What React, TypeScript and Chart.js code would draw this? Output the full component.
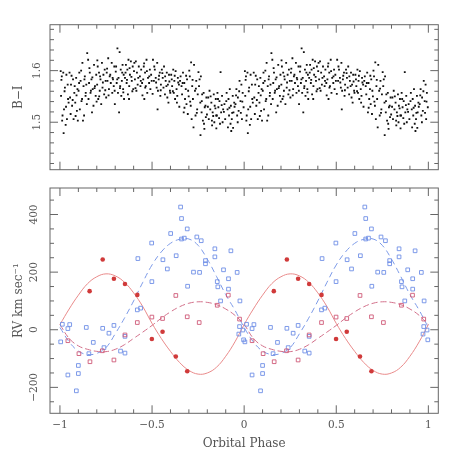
import React, { useEffect, useRef } from "react";
import { Chart, registerables } from "chart.js";
Chart.register(...registerables);

// ---- tick labels ----
const phaseTicks = [-1, -0.5, 0, 0.5, 1];
const biTicks = [1.5, 1.6];
const rvTicks = [-200, 0, 200, 400];

// ---- B-I colour curve, one orbital cycle: [phase, B-I] ----
const biPoints: [number, number][] = [
  [0.004,1.599],[0.018,1.596],[0.035,1.592],[0.010,1.589],[0.042,1.573],[0.027,1.567],[0.006,1.551],[0.047,1.538],[0.022,1.525],[0.014,1.513],[0.038,1.506],[0.031,1.495],[0.020,1.479],
  [0.008,1.582],[0.025,1.560],[0.044,1.545],[0.033,1.530],[0.012,1.503],
  [0.052,1.596],[0.088,1.586],[0.071,1.583],[0.060,1.573],[0.095,1.564],[0.078,1.557],[0.055,1.548],[0.083,1.538],[0.066,1.532],[0.092,1.522],[0.058,1.516],[0.074,1.506],[0.097,1.503],
  [0.063,1.590],[0.080,1.570],[0.090,1.552],[0.069,1.543],[0.085,1.512],
  [0.148,1.634],[0.122,1.615],[0.105,1.596],[0.135,1.589],[0.112,1.580],[0.143,1.573],[0.128,1.570],[0.101,1.561],[0.139,1.551],[0.117,1.541],[0.146,1.535],[0.108,1.525],[0.131,1.513],[0.125,1.503],
  [0.115,1.600],[0.133,1.583],[0.104,1.576],[0.140,1.557],[0.120,1.545],
  [0.153,1.621],[0.185,1.611],[0.162,1.596],[0.197,1.592],[0.171,1.583],[0.158,1.576],[0.190,1.570],[0.178,1.564],[0.166,1.557],[0.194,1.551],[0.155,1.545],[0.182,1.532],[0.174,1.519],
  [0.160,1.605],[0.176,1.587],[0.188,1.566],[0.168,1.561],[0.199,1.540],
  [0.228,1.615],[0.205,1.608],[0.243,1.602],[0.212,1.596],[0.236,1.592],[0.220,1.583],[0.248,1.580],[0.202,1.573],[0.231,1.567],[0.216,1.561],[0.240,1.554],[0.208,1.545],[0.224,1.535],
  [0.203,1.620],[0.218,1.589],[0.233,1.577],[0.246,1.562],[0.213,1.550],
  [0.262,1.624],[0.281,1.615],[0.295,1.608],[0.254,1.596],[0.270,1.589],[0.288,1.583],[0.258,1.580],[0.276,1.576],[0.292,1.570],[0.266,1.564],[0.284,1.557],[0.251,1.548],[0.298,1.535],
  [0.256,1.604],[0.273,1.592],[0.286,1.586],[0.297,1.561],[0.264,1.552],
  [0.312,1.643],[0.324,1.636],[0.340,1.611],[0.305,1.608],[0.330,1.602],[0.346,1.592],[0.318,1.586],[0.336,1.580],[0.308,1.576],[0.327,1.570],[0.343,1.564],[0.315,1.557],[0.333,1.551],[0.348,1.545],[0.321,1.519],
  [0.303,1.598],[0.338,1.596],[0.311,1.583],[0.326,1.566],[0.344,1.558],
  [0.372,1.621],[0.385,1.618],[0.358,1.611],[0.395,1.608],[0.366,1.602],[0.380,1.592],[0.353,1.586],[0.390,1.580],[0.362,1.576],[0.376,1.570],[0.398,1.564],[0.369,1.554],
  [0.356,1.596],[0.378,1.605],[0.388,1.588],[0.364,1.582],[0.393,1.560],[0.375,1.545],
  [0.412,1.618],[0.404,1.615],[0.428,1.608],[0.441,1.602],[0.418,1.596],[0.434,1.589],[0.407,1.583],[0.446,1.576],[0.422,1.573],[0.437,1.570],[0.415,1.561],
  [0.402,1.599],[0.425,1.586],[0.439,1.580],[0.410,1.566],[0.448,1.552],
  [0.470,1.621],[0.455,1.608],[0.488,1.602],[0.462,1.596],[0.495,1.592],[0.478,1.586],[0.452,1.583],[0.484,1.576],[0.466,1.570],[0.491,1.564],[0.474,1.557],[0.458,1.545],
  [0.457,1.614],[0.472,1.599],[0.485,1.589],[0.498,1.580],[0.463,1.567],
  [0.505,1.621],[0.528,1.615],[0.515,1.602],[0.542,1.596],[0.520,1.586],[0.536,1.583],[0.510,1.580],[0.548,1.573],[0.525,1.567],[0.532,1.561],[0.545,1.551],[0.530,1.525],
  [0.512,1.608],[0.538,1.590],[0.522,1.577],[0.547,1.562],[0.503,1.555],
  [0.565,1.608],[0.553,1.602],[0.580,1.596],[0.592,1.592],[0.558,1.586],[0.574,1.580],[0.586,1.573],[0.562,1.567],[0.597,1.561],[0.570,1.554],[0.583,1.548],[0.589,1.538],
  [0.556,1.595],[0.571,1.589],[0.594,1.579],[0.578,1.570],[0.599,1.557],
  [0.615,1.602],[0.628,1.599],[0.604,1.592],[0.640,1.586],[0.621,1.580],[0.646,1.573],[0.609,1.570],[0.633,1.564],[0.618,1.557],[0.637,1.551],[0.625,1.545],
  [0.607,1.583],[0.623,1.590],[0.642,1.577],[0.613,1.560],[0.635,1.538],[0.648,1.530],
  [0.668,1.596],[0.655,1.589],[0.690,1.583],[0.675,1.576],[0.660,1.570],[0.683,1.564],[0.696,1.561],[0.663,1.554],[0.679,1.545],[0.687,1.535],[0.672,1.519],[0.694,1.516],
  [0.652,1.580],[0.666,1.576],[0.685,1.590],[0.699,1.550],[0.676,1.528],
  [0.712,1.616],[0.728,1.611],[0.705,1.589],[0.740,1.580],[0.718,1.570],[0.733,1.561],[0.748,1.554],[0.722,1.545],[0.710,1.532],[0.745,1.525],[0.736,1.513],[0.715,1.506],[0.725,1.490],
  [0.702,1.600],[0.720,1.582],[0.738,1.565],[0.707,1.540],[0.743,1.518],
  [0.752,1.597],[0.765,1.589],[0.758,1.583],[0.780,1.557],[0.772,1.554],[0.795,1.548],[0.762,1.538],[0.786,1.529],[0.769,1.519],[0.792,1.510],[0.776,1.503],[0.784,1.487],[0.763,1.475],
  [0.755,1.570],[0.770,1.541],[0.790,1.532],[0.798,1.515],[0.782,1.497],
  [0.812,1.561],[0.835,1.554],[0.805,1.548],[0.846,1.545],[0.822,1.538],[0.840,1.532],[0.816,1.525],[0.829,1.519],[0.848,1.513],[0.808,1.506],[0.838,1.500],[0.826,1.494],
  [0.803,1.530],[0.818,1.550],[0.832,1.512],[0.844,1.527],[0.825,1.503],[0.849,1.488],
  [0.872,1.597],[0.855,1.557],[0.880,1.551],[0.866,1.541],[0.893,1.535],[0.860,1.529],[0.886,1.525],[0.875,1.519],[0.852,1.513],[0.897,1.506],[0.869,1.497],
  [0.858,1.545],[0.878,1.533],[0.890,1.520],[0.864,1.508],[0.883,1.500],
  [0.922,1.564],[0.905,1.557],[0.938,1.551],[0.915,1.545],[0.946,1.538],[0.928,1.532],[0.910,1.525],[0.942,1.519],[0.918,1.513],[0.933,1.506],[0.926,1.497],[0.912,1.490],[0.940,1.489],
  [0.903,1.541],[0.920,1.528],[0.935,1.518],[0.948,1.530],[0.930,1.483],
  [0.975,1.580],[0.985,1.573],[0.958,1.564],[0.992,1.557],[0.966,1.548],[0.980,1.541],[0.953,1.535],[0.997,1.529],[0.970,1.522],[0.962,1.513],[0.988,1.506],
  [0.956,1.552],[0.973,1.560],[0.990,1.540],[0.982,1.518],[0.965,1.500],
];

// ---- radial velocities, one cycle: [phase, km/s] ----
const primaryRV: [number, number][] = [
  [0.161,134],[0.232,244],[0.293,177],[0.353,159],[0.420,121],[0.499,-32],[0.557,-7],[0.629,-93],[0.691,-144],
];
const secondaryRV: [number, number][] = [
  [0.043,-38],[0.103,-83],[0.163,-111],[0.230,-73],[0.293,-105],[0.353,-18],[0.420,25],[0.499,44],
  [0.557,39],[0.629,119],[0.691,45],[0.756,25],[0.854,85],[0.914,120],[0.975,37],
];
const tertiaryRV: [number, number][] = [
  [0.004,-42],[0.013,19],[0.043,4],[0.053,18],[0.043,-157],[0.089,-212],[0.100,-124],[0.100,-152],
  [0.143,8],[0.157,-83],[0.181,-44],[0.232,5],[0.239,-62],[0.266,-12],[0.293,15],[0.329,-74],
  [0.353,-81],[0.353,-23],[0.420,69],[0.438,75],[0.423,247],[0.498,301],[0.499,167],[0.559,243],
  [0.583,211],[0.601,334],[0.631,257],[0.655,426],[0.660,386],[0.660,315],[0.675,318],[0.691,350],
  [0.693,151],[0.725,200],[0.743,322],[0.758,199],[0.767,309],[0.790,240],[0.790,229],[0.841,281],
  [0.841,253],[0.854,167],[0.857,149],[0.872,100],[0.888,208],[0.915,177],[0.915,141],[0.928,274],
  [0.962,199],[0.977,100],[0.975,11],[0.971,-15],[0.993,-1],[0.997,-35],
];

// ---- orbit fits ----
const curvePhase = [0,0.05,0.1,0.15,0.2,0.25,0.3,0.35,0.4,0.45,0.5,0.55,0.6,0.65,0.7,0.75,0.8,0.85,0.9,0.95,1];
const primaryFit = [18,72,120,160,184,194,187,165,128,80,22,-30,-75,-114,-141,-154,-150,-130,-92,-42,18];
const secondaryFit = [18,-30,-56,-68,-75,-76,-68,-52,-30,-8,15,40,62,80,92,97,95,87,72,50,18];
const tertiaryFit = [8,-42,-74,-86,-82,-62,-14,40,100,165,225,270,300,314,315,293,245,185,122,68,8];

// ---- helpers ----
const twoCycles = (pts: [number, number][]) =>
  pts.flatMap(([p, v]) => [{ x: p - 1, y: v }, { x: p, y: v }]);
const twoCycleCurve = (vals: number[]) =>
  curvePhase.slice(0, -1).map((p, i) => ({ x: p - 1, y: vals[i] }))
    .concat(curvePhase.map((p, i) => ({ x: p, y: vals[i] })));

const FONT = "'DejaVu Serif', serif";
const TEXT = "#555";
const FRAME = "#666";
const minus = (s: string) => s.replace("-", "\u2212");

function framePlugin(xMajor: number, xMinor: number, yMajor: number, yMinor: number) {
  return {
    id: "frameTicks",
    afterDatasetsDraw(chart: any) {
      const { ctx, chartArea } = chart;
      const { left, right, top, bottom } = chartArea;
      const xs = chart.scales.x;
      const ys = chart.scales.y;
      ctx.save();
      ctx.strokeStyle = FRAME;
      ctx.lineWidth = 1;
      ctx.strokeRect(left, top, right - left, bottom - top);
      const isMajor = (v: number, m: number) => Math.abs(v / m - Math.round(v / m)) < 1e-6;
      ctx.beginPath();
      for (let k = Math.ceil(xs.min / xMinor - 1e-9); k * xMinor <= xs.max + 1e-9; k++) {
        const v = k * xMinor;
        const px = xs.getPixelForValue(v);
        const len = isMajor(v, xMajor) ? 8 : 4;
        ctx.moveTo(px, bottom); ctx.lineTo(px, bottom - len);
        ctx.moveTo(px, top); ctx.lineTo(px, top + len);
      }
      for (let k = Math.ceil(ys.min / yMinor - 1e-9); k * yMinor <= ys.max + 1e-9; k++) {
        const v = k * yMinor;
        const py = ys.getPixelForValue(v);
        const len = isMajor(v, yMajor) ? 8 : 4;
        ctx.moveTo(left, py); ctx.lineTo(left + len, py);
        ctx.moveTo(right, py); ctx.lineTo(right - len, py);
      }
      ctx.stroke();
      ctx.restore();
    },
  };
}

export default function App() {
  const topRef = useRef<HTMLCanvasElement>(null);
  const botRef = useRef<HTMLCanvasElement>(null);

  useEffect(() => {
    const common = {
      animation: false as const,
      responsive: false,
      maintainAspectRatio: false,
      events: [] as any[],
      plugins: { legend: { display: false }, tooltip: { enabled: false } },
    };

    const top = new Chart(topRef.current!, {
      type: "scatter",
      data: {
        datasets: [
          {
            data: twoCycles(biPoints),
            pointStyle: "rect",
            pointRadius: 1.3,
            pointBorderWidth: 0,
            backgroundColor: "#111",
            borderColor: "#111",
          },
        ],
      },
      options: {
        ...common,
        layout: { padding: { left: 0, right: 24.7, top: 24.7, bottom: 8.3 } },
        scales: {
          x: {
            type: "linear",
            min: -1.054,
            max: 1.054,
            display: false,
            afterBuildTicks: (s: any) => { s.ticks = phaseTicks.map((v) => ({ value: v })); },
          },
          y: {
            type: "linear",
            min: 1.408,
            max: 1.689,
            afterBuildTicks: (s: any) => { s.ticks = biTicks.map((v) => ({ value: v })); },
            afterFit: (s: any) => { s.width = 50; },
            grid: { display: false, drawTicks: false },
            border: { display: false },
            ticks: {
              minRotation: 90,
              maxRotation: 90,
              crossAlign: "center",
              padding: 4,
              color: TEXT,
              font: { family: FONT, size: 10.5 },
              callback: (v: any) => Number(v).toFixed(1),
            },
            title: {
              display: true,
              text: "B\u2212I",
              color: TEXT,
              font: { family: FONT, size: 12 },
              padding: { top: 11.5, bottom: 0 },
            },
          },
        },
      },
      plugins: [framePlugin(0.5, 0.1, 0.1, 0.02)],
    } as any);

    const sq = (color: string) => ({
      pointStyle: "rect",
      pointRadius: 2.6,
      pointBorderWidth: 0.9,
      borderColor: color,
      backgroundColor: "rgba(0,0,0,0)",
      showLine: false,
    });
    const curve = (color: string, dash: number[]) => ({
      showLine: true,
      pointRadius: 0,
      borderWidth: 1,
      borderColor: color,
      borderDash: dash,
      tension: 0.4,
      fill: false,
    });

    const bot = new Chart(botRef.current!, {
      type: "scatter",
      data: {
        datasets: [
          { data: twoCycles(primaryRV), pointStyle: "circle", pointRadius: 2.3, pointBorderWidth: 0, backgroundColor: "#d03a3a", borderColor: "#d03a3a" },
          { data: twoCycles(secondaryRV), ...sq("#cf5a78") },
          { data: twoCycles(tertiaryRV), ...sq("#6f8fe6") },
          { data: twoCycleCurve(primaryFit), ...curve("#e98a8a", []) },
          { data: twoCycleCurve(secondaryFit), ...curve("#d2708a", [6, 3]) },
          { data: twoCycleCurve(tertiaryFit), ...curve("#7c9ae8", [6, 4]) },
        ],
      },
      options: {
        ...common,
        layout: { padding: { left: 0, right: 24.7, top: 8, bottom: 0 } },
        scales: {
          x: {
            type: "linear",
            min: -1.054,
            max: 1.054,
            afterBuildTicks: (s: any) => { s.ticks = phaseTicks.map((v) => ({ value: v })); },
            afterFit: (s: any) => { s.height = 49.7; },
            grid: { display: false, drawTicks: false },
            border: { display: false },
            ticks: {
              padding: 6,
              maxRotation: 0,
              color: TEXT,
              font: { family: FONT, size: 10.5 },
              callback: (v: any) => minus(String(v)),
            },
            title: {
              display: true,
              text: "Orbital Phase",
              color: TEXT,
              font: { family: FONT, size: 12 },
              padding: { top: 0, bottom: 11.5 },
            },
          },
          y: {
            type: "linear",
            min: -290,
            max: 492,
            afterBuildTicks: (s: any) => { s.ticks = rvTicks.map((v) => ({ value: v })); },
            afterFit: (s: any) => { s.width = 50; },
            grid: { display: false, drawTicks: false },
            border: { display: false },
            ticks: {
              minRotation: 90,
              maxRotation: 90,
              crossAlign: "center",
              padding: 1,
              color: TEXT,
              font: { family: FONT, size: 10.5 },
              callback: (v: any) => minus(String(v)),
            },
            title: {
              display: true,
              text: "RV km sec\u207B\u00B9",
              color: TEXT,
              font: { family: FONT, size: 12 },
              padding: { top: 11.5, bottom: 0 },
            },
          },
        },
      },
      plugins: [framePlugin(0.5, 0.1, 200, 50)],
    } as any);

    return () => {
      top.destroy();
      bot.destroy();
    };
  }, []);

  return (
    <div style={{ position: "absolute", left: 0, top: 0, width: 463, height: 463, background: "#fff" }}>
      <canvas ref={topRef} width={463} height={180} style={{ position: "absolute", left: 0, top: 0 }} />
      <canvas ref={botRef} width={463} height={283} style={{ position: "absolute", left: 0, top: 180 }} />
    </div>
  );
}
